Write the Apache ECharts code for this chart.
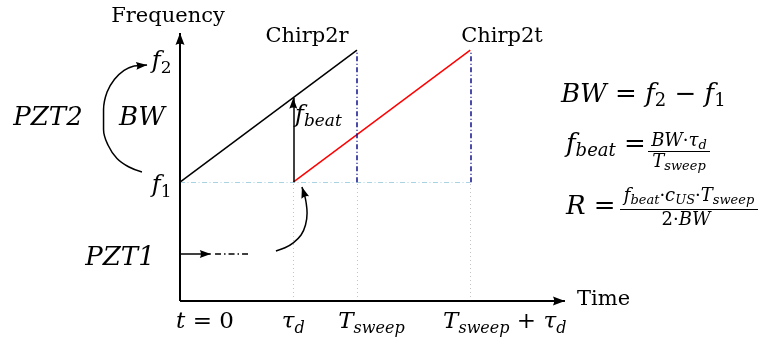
<!DOCTYPE html>
<html>
<head>
<meta charset="utf-8">
<script src="https://cdn.jsdelivr.net/npm/echarts@6/dist/echarts.min.js"></script>
<style>
  html, body { margin: 0; padding: 0; background: #fff; }
  #chart { width: 760px; height: 342px; }
</style>
</head>
<body>
<div id="chart"></div>
<script>
// units: time in T_sweep, frequency so that f2 - f1 = 1
const timeTicks = [0, 0.64, 1.0, 1.64];          // t=0, tau_d, T_sweep, T_sweep + tau_d
const freqTicks = [0.9, 1.9];                    // f1, f2
const axisEnds = [2.175, 2.03];                  // arrow tips of Time / Frequency axes

const chirp2r = [[0, 0.9], [1.0, 1.9]];
const chirp2t = [[0.64, 0.9], [1.64, 1.9]];
const fbeatArrow = [[0.64, 0.9], [0.64, 1.54]];
const f1Guide = [[[0, 0.9], [1.64, 0.9]]];
const sweepGuides = [[[1.0, 0.9], [1.0, 1.9]], [[1.64, 0.9], [1.64, 1.9]]];
const timeGuides = [[[0.64, 0], [0.64, 0.9]], [[1.0, 0], [1.0, 0.9]], [[1.64, 0], [1.64, 0.9]]];
const pzt1Arrow = [[0, 0.356], [0.174, 0.356]];
const pzt1Dash = [[0.198, 0.356], [0.39, 0.356]];
const pzt2Arc = [[-0.215, 0.977], [-0.288, 1.015], [-0.356, 1.08], [-0.407, 1.182], [-0.432, 1.3], [-0.432, 1.45],
  [-0.412, 1.583], [-0.37, 1.68], [-0.316, 1.748], [-0.26, 1.78]];
const pzt2Tip = [[-0.26, 1.78], [-0.186, 1.788]];
const tauArc = [[0.542, 0.379], [0.593, 0.403], [0.64, 0.44], [0.684, 0.5], [0.709, 0.576], [0.718, 0.667], [0.712, 0.75], [0.704, 0.8]];
const tauTip = [[0.704, 0.8], [0.689, 0.864]];

const FONT = '"DejaVu Serif", "Liberation Serif", serif';
// latex-like arrow head; the empty move keeps the tip on the line end
const HEAD = 'path://M5,-12M5,0L10,12Q5,9.5,0,12Z';
const chart = echarts.init(document.getElementById('chart'));

// rich styles for math: i italic, r roman, si / sr subscripts (prefix lets labels differ)
function mathRich(size, dy, prefix) {
  const p = prefix || '';
  const sub = Math.round(size * 0.7);
  const drop = Math.round(size * 0.5);
  const base = { fontFamily: FONT, color: '#000', fill: '#000', opacity: 1 };
  const out = {};
  out[p + 'i'] = Object.assign({}, base, { fontSize: size, fontStyle: 'italic', padding: [dy, 0, 0, 0] });
  out[p + 'r'] = Object.assign({}, base, { fontSize: size, padding: [dy, 0, 0, 0] });
  out[p + 'si'] = Object.assign({}, base, { fontSize: sub, fontStyle: 'italic', padding: [dy + drop, 0, 0, 0] });
  out[p + 'sr'] = Object.assign({}, base, { fontSize: sub, padding: [dy + drop, 0, 0, 0] });
  return out;
}

function leftPad(size, pad) {
  return { fontFamily: FONT, color: '#000', fontSize: size, fontStyle: 'italic', padding: [0, 0, 0, pad] };
}

const xRich = Object.assign(mathRich(23, 0), {
  pt0: leftPad(23, 50), ptsw: leftPad(23, 29), ptswtau: leftPad(23, 69)
});
const xLabels = [
  '{pt0|t}{r| = 0}',
  '{i|τ}{si|d}',
  '{ptsw|T}{si|sweep}',
  '{ptswtau|T}{si|sweep}{r| + }{i|τ}{si|d}'
];
const yRich = Object.assign(mathRich(24, 8, 'a'), mathRich(24, 24, 'b'));
const yLabels = ['{ai|f}{asr|1}', '{bi|f}{bsr|2}'];

function seg(a, b) { return [{ coord: a }, { coord: b }]; }

function guides(segs, color, type, width) {
  return {
    type: 'line', data: [], silent: true,
    markLine: {
      silent: true, symbol: 'none', label: { show: false }, emphasis: { disabled: true },
      lineStyle: { color: color, type: type, width: width },
      data: segs.map(s => seg(s[0], s[1]))
    }
  };
}

function arrows(segs, width, size) {
  return {
    type: 'line', data: [], silent: true,
    markLine: {
      silent: true, symbol: ['none', HEAD], symbolSize: size,
      label: { show: false }, emphasis: { disabled: true },
      itemStyle: { color: '#000' },
      lineStyle: { color: '#000', type: 'solid', width: width },
      data: segs.map(s => seg(s[0], s[1]))
    }
  };
}

function path(data, color, width, type, smooth) {
  return {
    type: 'line', data: data, smooth: smooth || false, showSymbol: false, symbol: 'none', silent: true,
    lineStyle: { color: color, width: width, type: type || 'solid' }
  };
}

// tick labels hung on transparent points sitting on the axes
function tickLabels(points, labels, position, distance, rich, lineHeight) {
  return {
    type: 'scatter', data: points, symbol: 'circle', symbolSize: 1, silent: true,
    itemStyle: { color: 'rgba(0,0,0,0)' },
    label: {
      show: true, position: position, distance: distance, color: '#000', opacity: 1,
      textBorderWidth: 0, fontFamily: FONT, rich: rich, lineHeight: lineHeight,
      formatter: p => labels[p.dataIndex]
    },
    emphasis: { disabled: true }
  };
}

function text(x, y, str, size, extra) {
  return {
    type: 'text', x: x, y: y, silent: true,
    style: Object.assign({
      text: str, fontFamily: FONT, fontSize: size, fill: '#000',
      align: 'center', verticalAlign: 'middle'
    }, extra || {})
  };
}

function bar(x1, x2, y) {
  return { type: 'line', silent: true, shape: { x1: x1, y1: y, x2: x2, y2: y }, style: { stroke: '#000', lineWidth: 1 } };
}

const plainAxis = {
  type: 'value', axisLine: { show: false }, axisTick: { show: false },
  axisLabel: { show: false }, splitLine: { show: false }
};

const option = {
  animation: false,
  grid: { left: 0, right: 0, top: 0, bottom: 0, outerBoundsMode: 'none' },
  xAxis: Object.assign({ min: -1.017, max: 3.277 }, plainAxis),
  yAxis: Object.assign({ min: -0.3106, max: 2.2803 }, plainAxis),
  series: [
    guides(f1Guide, '#a9d3e3', [5, 2.5, 1, 2.5], 1.2),
    guides(timeGuides, '#c4c4c4', [1, 3], 1),
    guides(sweepGuides, '#10108f', [5, 2.5, 1, 2.5], 1.5),
    path(chirp2r, '#000', 1.5),
    path(chirp2t, '#ff0000', 1.5),
    path(pzt1Dash, '#000', 1.5, [6, 3, 1.5, 3]),
    path(pzt2Arc, '#000', 1.5, 'solid', 0.4),
    path(tauArc, '#000', 1.5, 'solid', 0.4),
    arrows([[[0, 0], [axisEnds[0], 0]], [[0, 0], [0, axisEnds[1]]]], 2, [9, 24]),
    arrows([fbeatArrow, pzt1Arrow, pzt2Tip, tauTip], 1.5, [8, 22]),
    tickLabels(timeTicks.map(t => [t, 0]), xLabels, 'bottom', 4, xRich, 34),
    tickLabels(freqTicks.map(f => [0, f]), yLabels, 'left', 8, yRich)
  ],
  graphic: [
    text(168, 17, 'Frequency', 21),
    text(577, 300, 'Time', 21, { align: 'left' }),
    text(307, 37, 'Chirp2r', 21),
    text(502, 37, 'Chirp2t', 21),
    text(48, 118, 'PZT2', 26, { fontStyle: 'italic' }),
    text(142, 118, 'BW', 26, { fontStyle: 'italic' }),
    text(120, 258, 'PZT1', 26, { fontStyle: 'italic' }),
    text(295, 116, '{i|f}{si|beat}', 24, { align: 'left', rich: mathRich(24, 0) }),
    // BW = f2 - f1
    text(561, 95, '{i|BW}{r| = }{i|f}{sr|2}{r| − }{i|f}{sr|1}', 26, { align: 'left', rich: mathRich(26, 0) }),
    // f_beat = BW·tau_d / T_sweep
    text(566, 145, '{i|f}{si|beat}{r| =}', 26, { align: 'left', rich: mathRich(26, 0) }),
    text(679, 141, '{i|BW}{r|·}{i|τ}{si|d}', 18, { rich: mathRich(18, 0) }),
    bar(648, 710, 151.5),
    text(679, 162, '{i|T}{si|sweep}', 18, { rich: mathRich(18, 0) }),
    // R = f_beat·c_US·T_sweep / 2·BW
    text(566, 207, '{i|R}{r| = }', 26, { align: 'left', rich: mathRich(26, 0) }),
    text(689, 196, '{i|f}{si|beat}{r|·}{i|c}{si|US}{r|·}{i|T}{si|sweep}', 18, { rich: mathRich(18, 0) }),
    bar(620, 758, 209.5),
    text(686, 220, '{r|2·}{i|BW}', 18, { rich: mathRich(18, 0) })
  ]
};

chart.setOption(option);
window.addEventListener('resize', () => chart.resize());
</script>
</body>
</html>
